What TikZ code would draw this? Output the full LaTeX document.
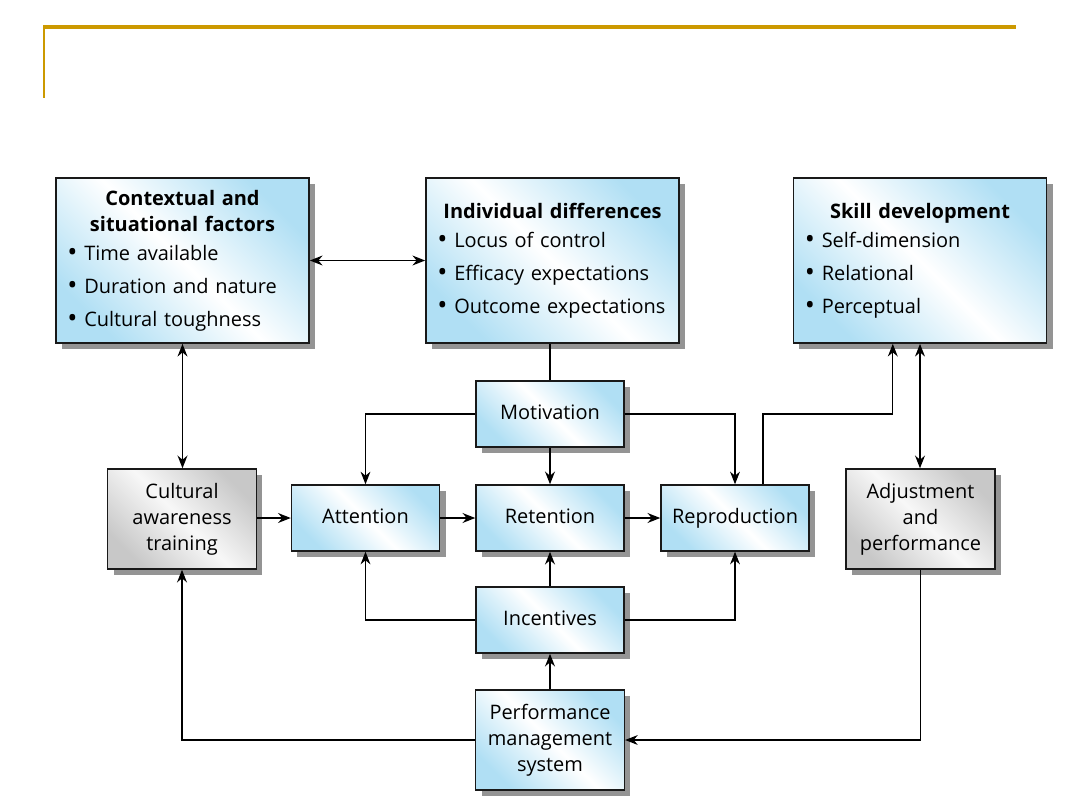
\documentclass[tikz,border=0pt]{standalone}
\usepackage{fontspec}
\setmainfont{Open Sans}
\usetikzlibrary{arrows.meta}
\usetikzlibrary{shadows}
\usetikzlibrary{positioning}
\definecolor{boxblue}{RGB}{176,223,244}
\definecolor{boxgray}{RGB}{200,200,200}
\definecolor{rulegold}{RGB}{204,153,0}
\tikzset{
	every path/.style={thick},
	box/.style={
		draw=black!90,
		line width=1pt,
		inner sep=0pt,
		font=\fontsize{14.2}{18.5}\selectfont,
		drop shadow={shadow xshift=0.15cm, shadow yshift=-0.15cm, fill=black!42, opacity=1},
	},
	bluebox/.style={
		box,
		left color=boxblue, right color=boxblue, middle color=white,
		shading angle=135,
	},
	graybox/.style={
		box,
		left color=boxgray, right color=boxgray, middle color=black!3,
		shading angle=135,
	},
	bigbox/.style={
		bluebox,
		minimum width=6.33cm, minimum height=4.13cm,
		text width=5.75cm,
	},
	smallbox/.style={
		bluebox,
		minimum width=3.7cm, minimum height=1.65cm,
		text height=0.95em, text depth=0.23em,
		align=center,
	},
	tallbox/.style={
		minimum width=3.72cm, minimum height=2.5cm,
		align=center,
	},
	flow/.style={
		line width=1.3pt,
		-{Stealth[length=9pt,width=7pt]}
	},
	twoway/.style={
		line width=1.3pt,
		{Stealth[length=9pt,width=7pt]}-{Stealth[length=9pt,width=7pt]}
	},
	thinflow/.style={
		line width=0.75pt,
		-{Stealth[length=9pt,width=7pt]}
	},
	plain/.style={line width=1.3pt},
}
\newcommand{\bitem}[1]{\raisebox{-0.12ex}{\scalebox{1.35}{\textbullet}}~#1}

\begin{document}
\begin{tikzpicture}[x=0.025cm, y=-0.025cm]
	\useasboundingbox (0,0) rectangle (1080,810);

	% slide rule
	\draw[rulegold, line width=2.2pt] (43,27) -- (1016,27);
	\draw[rulegold, line width=1.4pt] (44,27) -- (44,98);

	% top row
	\node[bigbox] (ctx) at (182.5,260.5) {{\centering\bfseries Contextual and\\ situational factors\par}\vspace{2.5pt}
		\bitem{Time available}\\[4.9pt] \bitem{Duration and nature}\\[4.9pt] \bitem{Cultural toughness}};
	\node[bigbox] (ind) at (552.5,260.5) {{\centering\bfseries Individual differences\par}\vspace{2.5pt}
		\bitem{Locus of control}\\[4.9pt] \bitem{Efficacy expectations}\\[4.9pt] \bitem{Outcome expectations}};
	\node[bigbox] (skill) at (920,260.5) {{\centering\bfseries Skill development\par}\vspace{2.5pt}
		\bitem{Self-dimension}\\[4.9pt] \bitem{Relational}\\[4.9pt] \bitem{Perceptual}};

	% process boxes
	\node[smallbox] (mot) at (550,414) {Motivation};
	\node[graybox, tallbox] (cat) at (182,519) {Cultural\\ awareness\\ training};
	\node[smallbox] (att) at (365.5,518) {Attention};
	\node[smallbox] (ret) at (550,518) {Retention};
	\node[smallbox] (rep) at (735,518) {Reproduction};
	\node[graybox, tallbox] (adj) at (920.5,519) {Adjustment\\ and\\ performance};
	\node[smallbox] (inc) at (550,620) {Incentives};
	\node[bluebox, tallbox] (pms) at (550,740) {Performance\\ management\\ system};

	\coordinate (sk) at ([xshift=-0.68cm]skill.south);
	\coordinate (rp) at ([xshift=0.7cm]rep.north);

	\draw[twoway] (ctx) -- (ind);
	\draw[twoway] (ctx.south) -- (ctx.south |- cat.north);
	\draw[plain] (mot.north |- ind.south) -- (mot.north);
	\draw[thinflow] (mot.west) -| (att.north);
	\draw[flow] (mot) -- (ret);
	\draw[thinflow] (mot.east) -| (rep.north);
	\draw[thinflow] (rp) |- (sk |- mot.east) -- (sk);
	\draw[twoway] (skill.south) -- (skill.south |- adj.north);

	\draw[flow] (cat.east |- att.west) -- (att);
	\draw[flow] (att) -- (ret);
	\draw[flow] (ret) -- (rep);

	\draw[thinflow] (inc.west) -| (att.south);
	\draw[flow] (inc) -- (ret);
	\draw[thinflow] (inc.east) -| (rep.south);
	\draw[flow] (pms) -- (inc);
	\draw[flow] (pms.west) -| (cat.south);
	\draw[thinflow] (adj.south) |- (pms.east);

\end{tikzpicture}
\end{document}
